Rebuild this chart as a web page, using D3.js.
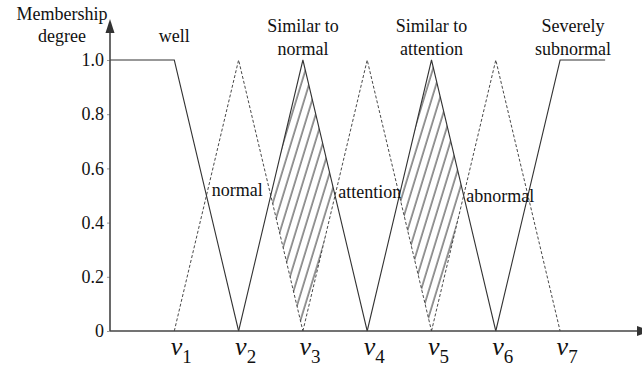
<!DOCTYPE html>
<html>
<head>
<meta charset="utf-8">
<script src="https://cdn.jsdelivr.net/npm/d3@7"></script>
<style>
  html, body { margin: 0; padding: 0; background: #fff; }
  svg { display: block; }
  text { font-family: "Liberation Serif", "DejaVu Serif", serif; fill: #111; }
</style>
</head>
<body>
<svg id="chart" width="642" height="370"></svg>
<script>
// ---- data ----
const xTickValues = [1, 2, 3, 4, 5, 6, 7];
const xTickLabels = ["1", "2", "3", "4", "5", "6", "7"]; // subscripts of v
const yTickValues = [0, 0.2, 0.4, 0.6, 0.8, 1.0];
const yTickLabels = ["0", "0.2", "0.4", "0.6", "0.8", "1.0"];

const seriesNames = ["well", "normal", "Similar to normal", "attention",
                     "Similar to attention", "abnormal", "Severely subnormal"];
const seriesX = [
  [0, 1, 2],
  [1, 2, 3],
  [2, 3, 4],
  [3, 4, 5],
  [4, 5, 6],
  [5, 6, 7],
  [6, 7, 7.7]
];
const seriesY = [
  [1, 1, 0],
  [0, 1, 0],
  [0, 1, 0],
  [0, 1, 0],
  [0, 1, 0],
  [0, 1, 0],
  [0, 1, 1]
];
const seriesDashed = [false, true, false, true, false, true, false];
const hatchedSeries = [2, 4]; // solid triangles whose overlap diamond is hatched

// ---- layout ----
const FONT = '"Liberation Serif", "DejaVu Serif", serif';
const svg = d3.select("#chart");
const x = d3.scaleLinear().domain([0, 8]).range([110, 624.4]);
const y = d3.scaleLinear().domain([0, 1]).range([331, 60]);

// hatch pattern
const defs = svg.append("defs");
const pat = defs.append("pattern")
  .attr("id", "hatch")
  .attr("patternUnits", "userSpaceOnUse")
  .attr("width", 7.6).attr("height", 20)
  .attr("patternTransform", "rotate(17)");
pat.append("line")
  .attr("x1", 1).attr("y1", 0).attr("x2", 1).attr("y2", 20)
  .attr("stroke", "#111").attr("stroke-width", 0.9);

// hatched diamonds (intersection of neighbouring lines)
hatchedSeries.forEach(i => {
  const cx = seriesX[i][1];
  const left = (seriesX[i][0] + cx) / 2, right = (cx + seriesX[i][2]) / 2;
  const pts = [[left, 0.5], [cx, 1], [right, 0.5], [cx, 0]];
  svg.append("path")
    .attr("d", d3.line().x(d => x(d[0])).y(d => y(d[1]))(pts) + "Z")
    .attr("fill", "url(#hatch)").attr("stroke", "none");
});

// series lines
const line = d3.line().x(d => x(d[0])).y(d => y(d[1]));
seriesX.forEach((xs, i) => {
  const pts = xs.map((v, j) => [v, seriesY[i][j]]);
  svg.append("path")
    .attr("d", line(pts))
    .attr("fill", "none")
    .attr("stroke", "#333")
    .attr("stroke-width", seriesDashed[i] ? 0.9 : 1.1)
    .attr("stroke-dasharray", seriesDashed[i] ? "3,2" : null);
});

// y axis
const yAxis = svg.append("g")
  .attr("transform", `translate(${x(0)},0)`)
  .call(d3.axisLeft(y).tickValues(yTickValues)
        .tickFormat((d, i) => yTickLabels[i]).tickSize(3).tickPadding(3));
yAxis.attr("font-family", null).attr("font-size", null);
yAxis.select(".domain").remove();
yAxis.selectAll(".tick line").attr("stroke", "#999");
yAxis.selectAll(".tick text")
  .style("font-family", FONT)
  .style("font-size", "18px").attr("fill", "#111");

// x axis
const xAxis = svg.append("g")
  .attr("transform", `translate(0,${y(0)})`)
  .call(d3.axisBottom(x).tickValues(xTickValues).tickSize(0).tickPadding(12)
        .tickFormat(() => ""));
xAxis.attr("font-family", null).attr("font-size", null);
xAxis.select(".domain").remove();
xAxis.selectAll(".tick text").each(function(d, i) {
  const t = d3.select(this).attr("text-anchor", "start").attr("x", -4).attr("dy", null).attr("y", 24)
    .style("font-family", FONT).attr("fill", "#111");
  t.append("tspan").style("font-style", "italic").style("font-size", "26px").text("v");
  t.append("tspan").style("font-size", "19px").attr("dy", 8).text(xTickLabels[i]);
});

// axis lines with arrows
const axisColor = "#444";
svg.append("line").attr("x1", x(0)).attr("y1", y(0)).attr("x2", x(0)).attr("y2", y(1.1))
  .attr("stroke", axisColor).attr("stroke-width", 1.6);
svg.append("line").attr("x1", x(0)).attr("y1", y(0)).attr("x2", 638).attr("y2", y(0))
  .attr("stroke", axisColor).attr("stroke-width", 1.6);
const ax0 = x(0), ay0 = y(0);
svg.append("path")
  .attr("d", `M${ax0},19 L${ax0 - 4.5},33 L${ax0 + 4.5},33 Z`)
  .attr("fill", "#333");
svg.append("path")
  .attr("d", `M651,${ay0} L637,${ay0 - 5} L637,${ay0 + 5} Z`)
  .attr("fill", "#333");

// text labels
const textFont = 18;
function label(lines, cx, baselines) {
  lines.forEach((s, k) => {
    svg.append("text").attr("x", cx).attr("y", baselines[k])
      .attr("text-anchor", "middle")
      .style("font-family", FONT).style("font-size", textFont + "px").text(s);
  });
}
label(["Membership", "degree"], 62, [20, 42]);
label([seriesNames[0]], x(1), [y(1.066)]);
label(["Similar to", "normal"], x(3), [y(1.103), y(1.018)]);
label(["Similar to", "attention"], x(5), [y(1.103), y(1.018)]);
label(["Severely", "subnormal"], x(7.2), [y(1.103), y(1.018)]);
label([seriesNames[1]], x(1.98), [y(0.50)]);
label([seriesNames[3]], x(4.04), [y(0.49)]);
label([seriesNames[5]], x(6.07), [y(0.476)]);
</script>
</body>
</html>
